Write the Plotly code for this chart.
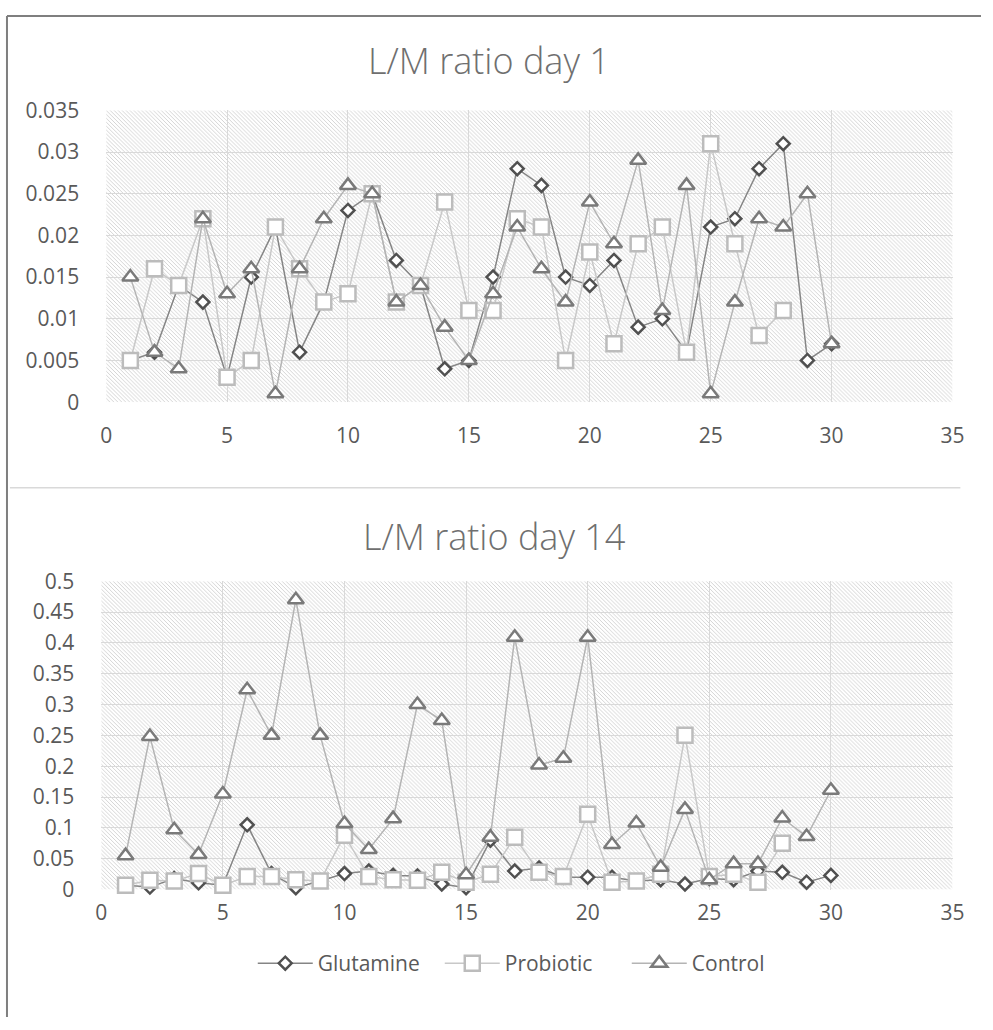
import base64
import plotly.graph_objects as go

# ---------------- data ----------------
days = list(range(1, 31))
days_prob = list(range(1, 29))

glutamine_day1 = [0.005, 0.006, 0.014, 0.012, 0.003, 0.015, 0.021, 0.006, 0.012, 0.023,
                  0.025, 0.017, 0.014, 0.004, 0.005, 0.015, 0.028, 0.026, 0.015, 0.014,
                  0.017, 0.009, 0.010, 0.006, 0.021, 0.022, 0.028, 0.031, 0.005, 0.007]
probiotic_day1 = [0.005, 0.016, 0.014, 0.022, 0.003, 0.005, 0.021, 0.016, 0.012, 0.013,
                  0.025, 0.012, 0.014, 0.024, 0.011, 0.011, 0.022, 0.021, 0.005, 0.018,
                  0.007, 0.019, 0.021, 0.006, 0.031, 0.019, 0.008, 0.011]
control_day1 = [0.015, 0.006, 0.004, 0.022, 0.013, 0.016, 0.001, 0.016, 0.022, 0.026,
                0.025, 0.012, 0.014, 0.009, 0.005, 0.013, 0.021, 0.016, 0.012, 0.024,
                0.019, 0.029, 0.011, 0.026, 0.001, 0.012, 0.022, 0.021, 0.025, 0.007]

glutamine_day14 = [0.007, 0.004, 0.018, 0.011, 0.007, 0.105, 0.026, 0.003, 0.014, 0.026,
                   0.030, 0.023, 0.022, 0.009, 0.003, 0.080, 0.030, 0.035, 0.020, 0.020,
                   0.020, 0.014, 0.016, 0.009, 0.018, 0.016, 0.030, 0.028, 0.012, 0.023]
probiotic_day14 = [0.007, 0.015, 0.014, 0.026, 0.007, 0.021, 0.021, 0.016, 0.014, 0.088,
                   0.021, 0.016, 0.015, 0.028, 0.012, 0.025, 0.085, 0.028, 0.021, 0.122,
                   0.012, 0.014, 0.025, 0.250, 0.021, 0.025, 0.012, 0.075]
control_day14 = [0.055, 0.248, 0.097, 0.057, 0.155, 0.324, 0.250, 0.470, 0.250, 0.107,
                 0.065, 0.115, 0.300, 0.274, 0.024, 0.085, 0.409, 0.202, 0.213, 0.409,
                 0.073, 0.108, 0.036, 0.130, 0.016, 0.042, 0.042, 0.116, 0.086, 0.161]

series_names = ["Glutamine", "Probiotic", "Control"]
titles = ["L/M ratio day 1", "L/M ratio day 14"]

# ---------------- style ----------------
W, H = 993, 1030
FONT = "Open Sans"
TXT = "#595959"
GRID = "#d9d9d9"

styles = {
    "Glutamine": dict(line="#858585", mline="#505050", symbol="diamond", size=10),
    "Probiotic": dict(line="#c8c8c8", mline="#bcbcbc", symbol="square", size=15),
    "Control": dict(line="#b4b4b4", mline="#7a7a7a", symbol="triangle-up", size=14),
}

# plot-area pixel boxes in figure px (left, top, right, bottom)
top_box = (102, 98, 964, 398)
bot_box = (97, 582, 964, 899)


def hatch_uri(w, h):
    svg = (
        f'<svg xmlns="http://www.w3.org/2000/svg" width="{w}" height="{h}">'
        '<defs><pattern id="p" width="4" height="4" patternUnits="userSpaceOnUse">'
        '<path d="M-1,-1 L5,5 M-1,3 L1,5 M3,-1 L5,1" stroke="#d4d4d4" stroke-width="1"/>'
        '</pattern></defs>'
        f'<rect width="{w}" height="{h}" fill="#ffffff"/>'
        f'<rect width="{w}" height="{h}" fill="url(#p)"/></svg>'
    )
    return "data:image/svg+xml;base64," + base64.b64encode(svg.encode()).decode()


fig = go.Figure()

panels = [
    ("x", "y", [glutamine_day1, probiotic_day1, control_day1], True),
    ("x2", "y2", [glutamine_day14, probiotic_day14, control_day14], False),
]
for xa, ya, vals, show in panels:
    for name, v in zip(series_names, vals):
        s = styles[name]
        xs = days if len(v) == len(days) else days_prob
        fig.add_trace(go.Scatter(
            x=xs, y=v, name=name, mode="lines+markers",
            xaxis=xa, yaxis=ya, showlegend=show, legendgroup=name,
            line=dict(color=s["line"], width=1.5),
            marker=dict(symbol=s["symbol"], size=s["size"], color="white",
                        line=dict(color=s["mline"], width=2.5)),
            cliponaxis=False,
        ))


def dom_x(b):
    return [b[0] / W, b[2] / W]


def dom_y(b):
    return [1 - b[3] / H, 1 - b[1] / H]


axis_common = dict(showgrid=True, gridcolor=GRID, gridwidth=1, zeroline=False,
                   showline=False, ticks="", tickfont=dict(family=FONT, size=21, color=TXT))

fig.update_layout(
    width=W, height=H,
    margin=dict(l=0, r=0, t=0, b=0),
    paper_bgcolor="white", plot_bgcolor="rgba(0,0,0,0)",
    font=dict(family=FONT, color=TXT),
    xaxis=dict(domain=dom_x(top_box), anchor="y", range=[0, 35], tick0=0, dtick=5,
               ticklabelstandoff=19, **axis_common),
    yaxis=dict(domain=dom_y(top_box), anchor="x", range=[0, 0.035], tick0=0, dtick=0.005,
               ticklabelstandoff=26, **axis_common),
    xaxis2=dict(domain=dom_x(bot_box), anchor="y2", range=[0, 35], tick0=0, dtick=5,
                ticklabelstandoff=8, **axis_common),
    yaxis2=dict(domain=dom_y(bot_box), anchor="x2", range=[0, 0.5], tick0=0, dtick=0.05,
                ticklabelstandoff=26, **axis_common),
    legend=dict(orientation="h", x=537 / W, xanchor="center", y=1 - 975 / H, yanchor="middle",
                font=dict(family=FONT, size=21, color=TXT), bgcolor="rgba(0,0,0,0)",
                itemwidth=55, entrywidth=117, entrywidthmode="pixels", tracegroupgap=0),
    images=[
        dict(source=hatch_uri(top_box[2] - top_box[0], top_box[3] - top_box[1]),
             xref="x domain", yref="y domain", x=0, y=1, sizex=1, sizey=1,
             xanchor="left", yanchor="top", sizing="stretch", layer="below"),
        dict(source=hatch_uri(bot_box[2] - bot_box[0], bot_box[3] - bot_box[1]),
             xref="x2 domain", yref="y2 domain", x=0, y=1, sizex=1, sizey=1,
             xanchor="left", yanchor="top", sizing="stretch", layer="below"),
    ],
    annotations=[
        dict(text=titles[0], xref="paper", yref="paper", x=492 / W, y=1 - 47 / H,
             xanchor="center", yanchor="middle", showarrow=False,
             font=dict(family=FONT, size=36, weight=300, color="#6f6f6f")),
        dict(text=titles[1], xref="paper", yref="paper", x=498 / W, y=1 - 536 / H,
             xanchor="center", yanchor="middle", showarrow=False,
             font=dict(family=FONT, size=36, weight=300, color="#6f6f6f")),
    ],
    shapes=[
        dict(type="line", xref="paper", yref="paper", x0=1 / W, x1=1 / W, y0=0, y1=1 - 1 / H,
             line=dict(color="#7f7f7f", width=2)),
        dict(type="line", xref="paper", yref="paper", x0=1 / W, x1=1, y0=1 - 1 / H, y1=1 - 1 / H,
             line=dict(color="#7f7f7f", width=2)),
        dict(type="line", xref="paper", yref="paper", x0=4 / W, x1=972 / W, y0=1 - 486 / H,
             y1=1 - 486 / H, line=dict(color="#d9d9d9", width=1.5)),
    ],
)

fig.write_html(
    "out.html",
    config={"displayModeBar": False},
    post_script="document.body.style.margin='0';document.body.style.overflow='hidden';",
)
